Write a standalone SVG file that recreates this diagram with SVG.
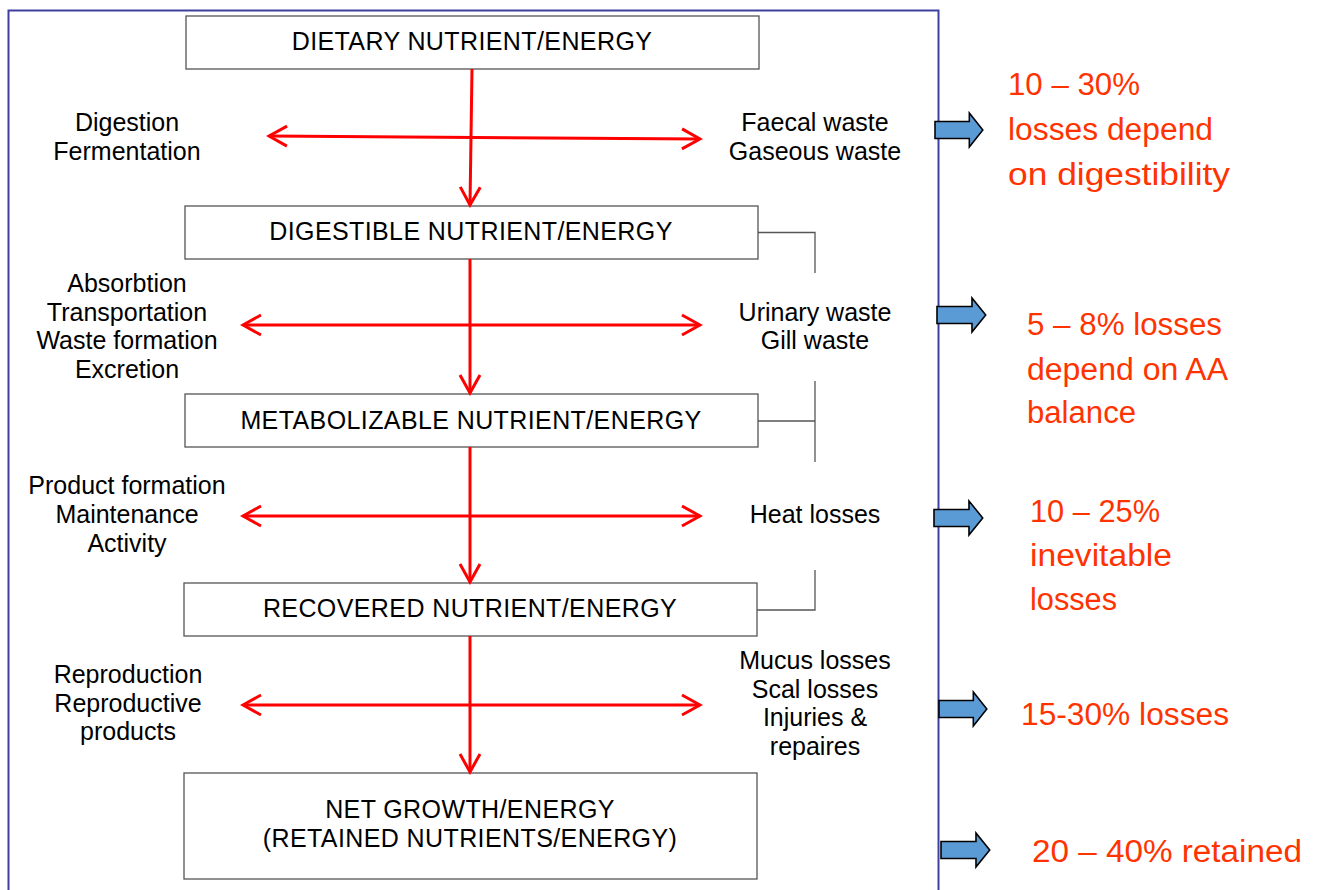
<svg xmlns="http://www.w3.org/2000/svg" width="1318" height="890" viewBox="0 0 1318 890">
  <defs>
    <style>
      .box { fill: #ffffff; stroke: #555555; stroke-width: 1.3; }
      .lbl { font-family: "Liberation Sans", Arial, sans-serif; font-size: 25px; fill: #000000; text-anchor: middle; }
      .cap { letter-spacing: 0.4px; }
      .note { font-family: "Liberation Sans", Arial, sans-serif; font-size: 31px; fill: #ff3300; }
      .flow { stroke: #ff0000; stroke-width: 3; fill: none; marker-end: url(#head); }
      .both { stroke: #ff0000; stroke-width: 3; fill: none; marker-start: url(#headStart); marker-end: url(#head); }
      .brk { stroke: #555555; stroke-width: 1.3; fill: none; }
      .blk { fill: #5b9bd5; stroke: #000000; stroke-width: 1.5; }
    </style>
    <marker id="head" viewBox="0 0 24 24" refX="21" refY="12" markerWidth="24" markerHeight="24" markerUnits="userSpaceOnUse" orient="auto">
      <path d="M3,2 L21,12 L3,22" fill="none" stroke="#ff0000" stroke-width="3"/>
    </marker>
    <marker id="headStart" viewBox="0 0 24 24" refX="3" refY="12" markerWidth="24" markerHeight="24" markerUnits="userSpaceOnUse" orient="auto">
      <path d="M21,2 L3,12 L21,22" fill="none" stroke="#ff0000" stroke-width="3"/>
    </marker>
    <path id="blockArrow" d="M0,-8.5 L33,-8.5 L33,-17 L46,0 L33,17 L33,8.5 L0,8.5 Z"/>
  </defs>

  <rect width="1318" height="890" fill="#ffffff"/>

  <!-- outer frame -->
  <rect x="8.5" y="10.5" width="930" height="900" fill="none" stroke="#3f3fa0" stroke-width="2"/>

  <!-- flow boxes -->
  <g id="dietary">
    <rect class="box" x="186" y="16" width="573" height="53"/>
    <text class="lbl cap" x="472" y="50">DIETARY NUTRIENT/ENERGY</text>
  </g>
  <g id="digestible">
    <rect class="box" x="185" y="206" width="573" height="53"/>
    <text class="lbl cap" x="471" y="240">DIGESTIBLE NUTRIENT/ENERGY</text>
  </g>
  <g id="metabolizable">
    <rect class="box" x="185" y="394" width="573" height="53"/>
    <text class="lbl cap" x="471" y="429">METABOLIZABLE NUTRIENT/ENERGY</text>
  </g>
  <g id="recovered">
    <rect class="box" x="184" y="583" width="573" height="53"/>
    <text class="lbl cap" x="470" y="617">RECOVERED NUTRIENT/ENERGY</text>
  </g>
  <g id="net-growth">
    <rect class="box" x="184" y="773" width="573" height="106"/>
    <text class="lbl cap" x="470" y="818">NET GROWTH/ENERGY</text>
    <text class="lbl cap" x="470" y="847">(RETAINED NUTRIENTS/ENERGY)</text>
  </g>

  <!-- side process labels -->
  <g id="left-labels">
    <text class="lbl" x="127" y="131">Digestion</text>
    <text class="lbl" x="127" y="160">Fermentation</text>
    <text class="lbl" x="127" y="292">Absorbtion</text>
    <text class="lbl" x="127" y="321">Transportation</text>
    <text class="lbl" x="127" y="349">Waste formation</text>
    <text class="lbl" x="127" y="378">Excretion</text>
    <text class="lbl" x="127" y="494">Product formation</text>
    <text class="lbl" x="127" y="523">Maintenance</text>
    <text class="lbl" x="127" y="552">Activity</text>
    <text class="lbl" x="128" y="683">Reproduction</text>
    <text class="lbl" x="128" y="712">Reproductive</text>
    <text class="lbl" x="128" y="740">products</text>
  </g>
  <g id="right-labels">
    <text class="lbl" x="815" y="131">Faecal waste</text>
    <text class="lbl" x="815" y="160">Gaseous waste</text>
    <text class="lbl" x="815" y="321">Urinary waste</text>
    <text class="lbl" x="815" y="349">Gill waste</text>
    <text class="lbl" x="815" y="523">Heat losses</text>
    <text class="lbl" x="815" y="669">Mucus losses</text>
    <text class="lbl" x="815" y="698">Scal losses</text>
    <text class="lbl" x="815" y="726">Injuries &amp;</text>
    <text class="lbl" x="815" y="755">repaires</text>
  </g>

  <!-- connectors -->
  <g id="connectors">
    <line class="flow" x1="472" y1="69" x2="470" y2="205"/>
    <line class="flow" x1="470" y1="259" x2="470" y2="393"/>
    <line class="flow" x1="470" y1="447" x2="470" y2="582"/>
    <line class="flow" x1="470" y1="636" x2="470" y2="772"/>

    <line class="both" x1="269" y1="136" x2="700" y2="139"/>
    <line class="both" x1="243" y1="325" x2="700" y2="325"/>
    <line class="both" x1="243" y1="516" x2="700" y2="516"/>
    <line class="both" x1="243" y1="705" x2="700" y2="705"/>

    <polyline class="brk" points="758,232.5 815,232.5 815,273"/>
    <line class="brk" x1="815" y1="381" x2="815" y2="462"/>
    <line class="brk" x1="758" y1="421" x2="815" y2="421"/>
    <polyline class="brk" points="757,610 815,610 815,570"/>
  </g>

  <!-- loss indicators -->
  <g id="loss-arrows">
    <use href="#blockArrow" class="blk" transform="translate(935,130) scale(1.04,1)"/>
    <use href="#blockArrow" class="blk" transform="translate(937,315) scale(1.06,1)"/>
    <use href="#blockArrow" class="blk" transform="translate(934,518) scale(1.06,1)"/>
    <use href="#blockArrow" class="blk" transform="translate(939,709) scale(1.04,1)"/>
    <use href="#blockArrow" class="blk" transform="translate(941,850) scale(1.06,1)"/>
  </g>

  <g id="loss-notes">
    <text class="note" x="1008" y="95" textLength="132" lengthAdjust="spacingAndGlyphs">10 – 30%</text>
    <text class="note" x="1008" y="140" textLength="205" lengthAdjust="spacingAndGlyphs">losses depend</text>
    <text class="note" x="1008" y="185" textLength="222" lengthAdjust="spacingAndGlyphs">on digestibility</text>
    <text class="note" x="1027" y="335" textLength="195" lengthAdjust="spacingAndGlyphs">5 – 8% losses</text>
    <text class="note" x="1027" y="380" textLength="201" lengthAdjust="spacingAndGlyphs">depend on AA</text>
    <text class="note" x="1027" y="423" textLength="109" lengthAdjust="spacingAndGlyphs">balance</text>
    <text class="note" x="1030" y="522" textLength="130" lengthAdjust="spacingAndGlyphs">10 – 25%</text>
    <text class="note" x="1030" y="566" textLength="142" lengthAdjust="spacingAndGlyphs">inevitable</text>
    <text class="note" x="1030" y="610" textLength="87" lengthAdjust="spacingAndGlyphs">losses</text>
    <text class="note" x="1021" y="725" textLength="208" lengthAdjust="spacingAndGlyphs">15-30% losses</text>
    <text class="note" x="1032" y="862" textLength="270" lengthAdjust="spacingAndGlyphs">20 – 40% retained</text>
  </g>
</svg>
